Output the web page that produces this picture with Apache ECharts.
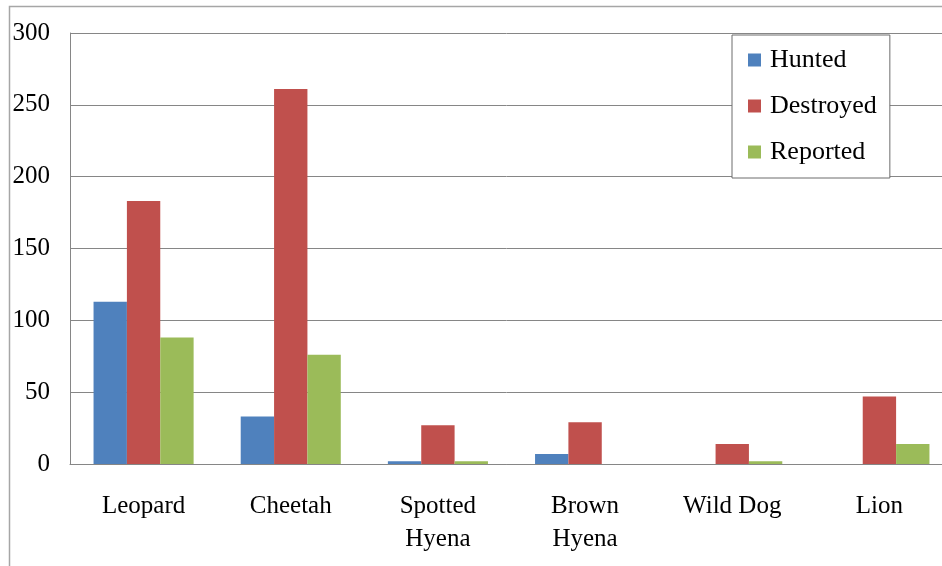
<!DOCTYPE html>
<html>
<head>
<meta charset="utf-8">
<script src="https://cdn.jsdelivr.net/npm/echarts@6/dist/echarts.min.js"></script>
<style>
  html, body { margin: 0; padding: 0; background: #fff; }
  #chart { width: 942px; height: 566px; }
</style>
</head>
<body>
<div id="chart"></div>
<script>
// Predators killed, by species
const categories = ['Leopard', 'Cheetah', 'Spotted\nHyena', 'Brown\nHyena', 'Wild Dog', 'Lion'];
const hunted    = [113, 33, 2, 7, 0, 0];
const destroyed = [183, 261, 27, 29, 14, 47];
const reported  = [88, 76, 2, 0, 2, 14];
const yTicks = { min: 0, max: 300, interval: 50 };

const FONT = '"Liberation Serif", "Times New Roman", serif';
const GRID = '#868686';

const chart = echarts.init(document.getElementById('chart'), null, { renderer: 'canvas' });

function barSeries(name, data, color) {
  return {
    name: name,
    type: 'bar',
    data: data,
    itemStyle: { color: color },
    barGap: '0%',
    barCategoryGap: '32%',
    emphasis: { disabled: true }
  };
}

chart.setOption({
  animation: false,
  backgroundColor: '#fff',
  textStyle: { fontFamily: FONT },
  // the plot area runs a little past the right edge of the canvas
  grid: {
    left: 70, top: 33, width: 883, bottom: 102,
    containLabel: false,
    outerBoundsMode: 'none'
  },
  graphic: [{
    type: 'rect',
    shape: { x: 9.5, y: 6.5, width: 1000, height: 600 },
    style: { fill: 'none', stroke: '#a6a6a6', lineWidth: 1.5 },
    silent: true,
    z: -1
  }],
  legend: {
    orient: 'vertical',
    left: 732,
    top: 35,
    itemWidth: 13,
    itemHeight: 13,
    itemGap: 20,
    icon: 'rect',
    padding: [12, 13, 13, 16],
    backgroundColor: '#fff',
    borderColor: '#6d6d6d',
    borderWidth: 1,
    textStyle: { fontFamily: FONT, fontSize: 26, color: '#000', padding: [0, 0, 0, 4] },
    data: ['Hunted', 'Destroyed', 'Reported']
  },
  xAxis: {
    type: 'category',
    data: categories,
    axisLine: { lineStyle: { color: GRID, width: 1 } },
    axisTick: { show: false },
    axisLabel: {
      color: '#000',
      fontFamily: FONT,
      fontSize: 25,
      lineHeight: 33,
      margin: 26,
      interval: 0
    }
  },
  yAxis: {
    type: 'value',
    min: yTicks.min,
    max: yTicks.max,
    interval: yTicks.interval,
    axisLine: { show: true, lineStyle: { color: GRID, width: 1 } },
    axisTick: { show: false },
    splitLine: { lineStyle: { color: GRID, width: 1 } },
    axisLabel: { color: '#000', fontFamily: FONT, fontSize: 25, margin: 20 }
  },
  series: [
    barSeries('Hunted', hunted, '#4F81BD'),
    barSeries('Destroyed', destroyed, '#C0504D'),
    barSeries('Reported', reported, '#9BBB59')
  ]
});
</script>
</body>
</html>
